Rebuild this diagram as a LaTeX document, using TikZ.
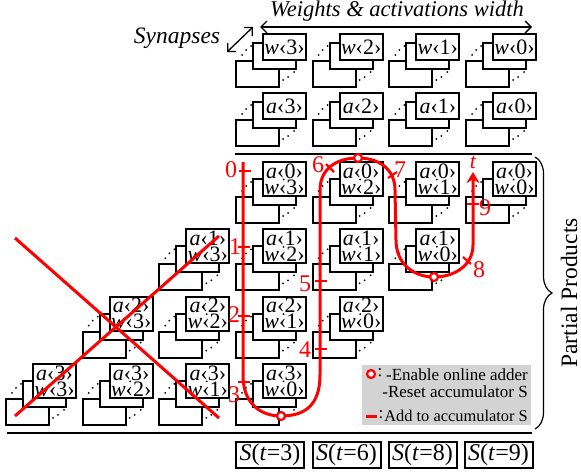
\documentclass[tikz,border=0pt]{standalone}
\usepackage{fontspec}
\setmainfont{Liberation Serif}
\usetikzlibrary{arrows.meta,decorations.pathreplacing}
\definecolor{PathRed}{HTML}{FF0000}
\definecolor{LegendGray}{HTML}{D3D3D3}
\tikzset{
  wirebox/.style={draw=black,line width=2pt,fill=white},
  frontbox/.style={wirebox,anchor=south west,inner sep=0pt,minimum width=43pt,align=center,
    font=\fontsize{22}{16}\selectfont},
  sumbox/.style={draw=black,line width=2pt,anchor=north west,inner sep=0pt,minimum width=68pt,
    minimum height=26pt,font=\fontsize{24}{24}\selectfont},
  rednum/.style={text=PathRed,inner sep=0pt,font=\fontsize{24}{24}\selectfont},
  legendtxt/.style={anchor=east,inner sep=0pt,font=\fontsize{17}{17}\selectfont},
  redline/.style={draw=PathRed,line width=3pt},
  tickmark/.style={draw=PathRed,line width=2.2pt},
  enablemark/.style={circle,draw=PathRed,fill=white,line width=2.2pt,minimum size=8pt,inner sep=0pt},
}
% one synapse stack: name, x of the front box, y of its bottom edge, height, label
\newcommand{\synstack}[5]{
  \draw[wirebox] (#2-26,#3+26) rectangle ++(43,-26);
  \foreach \dx/\dy in {-20/-6,-16/-11,-11/-15,21/19,26/16,32/11}
    \fill (#2+\dx,#3+\dy) circle (1);
  \draw[wirebox] (#2-9,#3+8) rectangle ++(43,-26);
  \node[frontbox,minimum height=#4pt] (#1) at (#2,#3) {#5};
}
\begin{document}
\begin{tikzpicture}[x=1pt,y=-1pt]
  \useasboundingbox (0,0) rectangle (581,474);

  % weights and activations
  \foreach \ww in {0,...,3}{
    \pgfmathsetmacro{\cx}{32+76.67*(6-\ww)}
    \synstack{w\ww}{\cx}{61}{26}{\textit{w}‹\ww›}
    \synstack{a\ww}{\cx}{120}{26}{\textit{a}‹\ww›}
  }

  % partial products
  \foreach \aa in {0,...,3}
    \foreach \ww in {0,...,3}{
      \pgfmathsetmacro{\cx}{32+76.67*(6-\aa-\ww)}
      \pgfmathsetmacro{\cy}{197+67.3*\aa}
      \synstack{p\aa\ww}{\cx}{\cy}{34}{\textit{a}‹\aa›\\\textit{w}‹\ww›}
      \fill (\cx+21.5,\cy-17.5) circle (1);
    }

  % rules
  \coordinate (ruleTL) at (235,154);
  \coordinate (ruleTR) at (532,154);
  \coordinate (ruleBL) at (7,433);
  \coordinate (ruleBR) at (532,433);
  \draw[line width=1.2pt] (ruleTL) -- (ruleTR);
  \draw[line width=1.2pt] (ruleBL) -- (ruleBR);

  % header
  \coordinate (widthL) at (260,27);
  \coordinate (widthR) at (532,27);
  \draw[{Straight Barb[length=6pt,width=12pt]}-{Straight Barb[length=6pt,width=12pt]},line width=1.3pt] (widthL) -- (widthR);
  \node[inner sep=0pt,font=\itshape\fontsize{22.5}{22.5}\selectfont] (widthtxt) at (397,11) {Weights \& activations width};
  \node[inner sep=0pt,font=\itshape\fontsize{23.5}{23.5}\selectfont] (syntxt) at (177,38) {Synapses};
  \coordinate (synA) at (227,52);
  \coordinate (synB) at (253,27);
  \draw[{Straight Barb[length=6pt,width=12pt]}-{Straight Barb[length=6pt,width=12pt]},line width=1.3pt] (synA) -- (synB);

  % brace
  \coordinate (braceT) at (535,157);
  \coordinate (braceB) at (535,429);
  \draw[line width=1.2pt,decorate,decoration={brace,amplitude=17pt}] (braceT) -- (braceB);
  \node[rotate=90,inner sep=0pt,font=\fontsize{23.5}{23.5}\selectfont] (pptxt) at (569,293) {Partial Products};

  % discarded products
  \coordinate (xA) at (15,238);
  \coordinate (xB) at (219,418);
  \coordinate (xC) at (15,416);
  \coordinate (xD) at (219,236);
  \draw[redline] (xA) -- (xB);
  \draw[redline] (xC) -- (xD);

  % legend
  \fill[LegendGray] (362,365) rectangle (531,425);
  \node[legendtxt] (lgA) at (528,375) {-Enable online adder};
  \node[legendtxt] (lgB) at (528,392) {-Reset accumulator S};
  \node[legendtxt,font=\fontsize{16.4}{16.4}\selectfont] (lgC) at (528,416) {Add to accumulator S};
  \node[inner sep=0pt,font=\fontsize{17}{17}\selectfont] (lgD) at (380,373) {:};
  \node[inner sep=0pt,font=\fontsize{17}{17}\selectfont] (lgH) at (381,415) {:};
  \node[enablemark] (lgE) at (371,374) {};
  \coordinate (lgF) at (366,416);
  \coordinate (lgG) at (377,416);
  \draw[redline] (lgF) -- (lgG);

  % accumulator path
  \draw[redline,-{Stealth[length=11pt,width=13pt]}] (243,162) -- (243,375)
    .. controls (243,405) and (262,416) .. (281,416)
    .. controls (305,416) and (320,405) .. (320,375) -- (320,190)
    .. controls (320,170) and (335,158) .. (358,158)
    .. controls (380,158) and (395,170) .. (395,190) -- (396,240)
    .. controls (396,265) and (415,277) .. (434,277)
    .. controls (455,277) and (473,265) .. (473,245) -- (473,172);
  \foreach \tx/\ty in {239/171,238/247,238/316,238/382,315/349,315/281,467/204}
    \draw[tickmark] (\tx,\ty) -- ++(12,0);
  \draw[tickmark] (326,164) -- (334,172);
  \draw[tickmark] (388,178) -- (397,172);
  \draw[tickmark] (463,257) -- (471,264);
  \node[enablemark] (enA) at (281,416) {};
  \node[enablemark] (enB) at (358,158) {};
  \node[enablemark] (enC) at (434,277) {};

  \foreach \lbl/\tx/\ty in {0/231/170,1/235/247,2/234/315,3/234/395,4/305/350,5/305/284,6/318/165,7/400/170,8/479/270,9/485/208}
    \node[rednum] (n\lbl) at (\tx,\ty) {\lbl};
  \node[rednum,font=\itshape\fontsize{22}{22}\selectfont] (ntime) at (473,162) {t};

  % sums
  \foreach \tt/\sx in {3/235,6/311.5,8/387.5,9/463.5}
    \node[sumbox] (s\tt) at (\sx,441) {\textit{S}(\textit{t}=\tt)};
\end{tikzpicture}
\end{document}
